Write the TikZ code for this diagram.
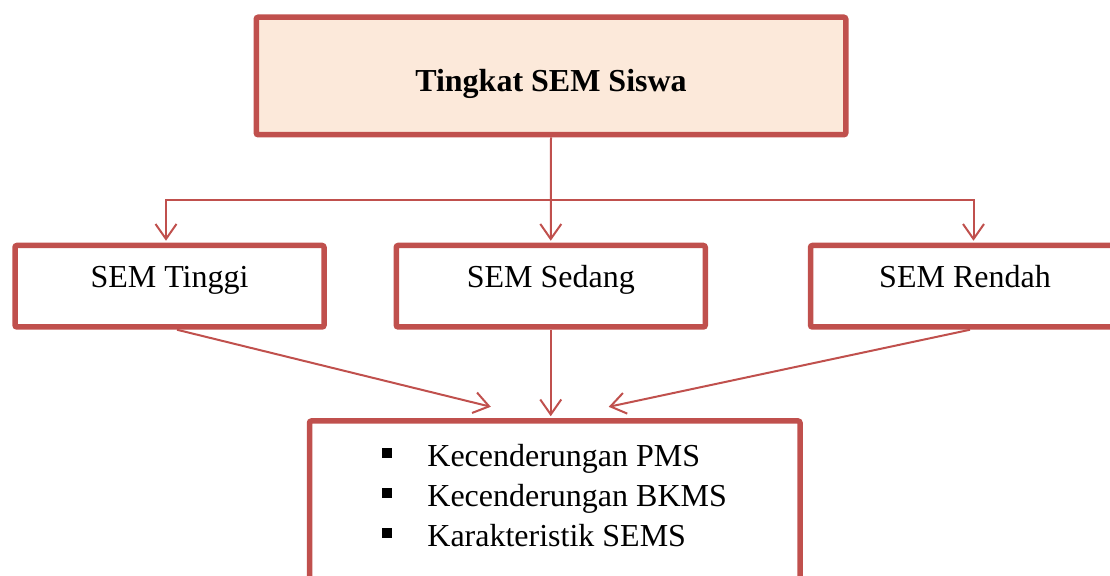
\documentclass[tikz,border=0pt]{standalone}
\usepackage{fontspec}
\setmainfont{Liberation Serif}
\usetikzlibrary{arrows.meta}
\definecolor{merah}{HTML}{C0504D}
\definecolor{krem}{HTML}{FCE9DA}

\begin{document}
\begin{tikzpicture}[x=0.5pt,y=-0.5pt]
	\tikzstyle{every node}=[inner sep=0pt, font=\fontsize{16}{20}\selectfont]
	\tikzstyle{kotak}=[draw=merah, line width=2.75pt, rounded corners=1pt, rectangle, minimum width=154.5pt, minimum height=40.75pt, text height=10pt, text depth=9pt]
	\tikzstyle{panah}=[draw=merah, line width=1pt, shorten >=1pt, -{Straight Barb[length=7.5pt,width=10.5pt]}]
	\useasboundingbox (0,0) rectangle (1110,576);
	\clip (0,0) rectangle (1110,576);
	% kotak atas
	\node[kotak, fill=krem, minimum width=294.75pt, minimum height=58.75pt, text height=20pt, text depth=4pt, font=\fontsize{16}{20}\selectfont\bfseries] (tingkat) at (551,76) {Tingkat SEM Siswa};
	% tiga tingkat
	\node[kotak] (tinggi) at (169.5,286.25) {SEM Tinggi};
	\node[kotak] (sedang) at (550.75,286.25) {SEM Sedang};
	\node[kotak] (rendah) at (965,286.25) {SEM Rendah};
	% kotak bawah
	\node[kotak, minimum width=245.25pt, minimum height=84.5pt] (hasil) at (554.75,505.5) {};
	\node[anchor=base west] (butir1) at (382,467) {\rule[4.5pt]{5pt}{5pt}\hspace{17.5pt}Kecenderungan PMS};
	\node[anchor=base west] (butir2) at (382,507) {\rule[4.5pt]{5pt}{5pt}\hspace{17.5pt}Kecenderungan BKMS};
	\node[anchor=base west] (butir3) at (382,547) {\rule[4.5pt]{5pt}{5pt}\hspace{17.5pt}Karakteristik SEMS};
	% panah
	\coordinate (cabang) at (551,200);
	\draw[panah] (tingkat.south) -- (sedang.north);
	\draw[panah] (cabang) -| ([xshift=-1.75pt]tinggi.north);
	\draw[panah] (cabang) -| ([xshift=4.25pt]rendah.north);
	\draw[panah] ([xshift=3.75pt]tinggi.south) -- ([xshift=-31pt,yshift=5.5pt]hasil.north);
	\draw[panah] (sedang.south) -- (sedang.south |- hasil.north);
	\draw[panah] ([xshift=2.5pt]rendah.south) -- ([xshift=26pt,yshift=5.5pt]hasil.north);
\end{tikzpicture}
\end{document}
